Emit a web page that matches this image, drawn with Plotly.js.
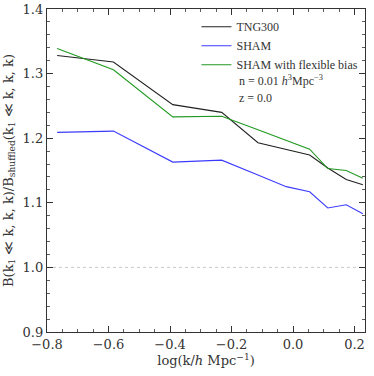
<!DOCTYPE html>
<html>
<head>
<meta charset="utf-8">
<script src="https://cdn.plot.ly/plotly-3.0.1.min.js"></script>
<style>
  html, body { margin: 0; padding: 0; background: #fff; overflow: hidden; }
  #chart { width: 374px; height: 376px; }
</style>
</head>
<body>
<div id="chart"></div>
<script>
// log(k) bins
const logK = [-0.767, -0.584, -0.391, -0.232, -0.114, -0.022, 0.054, 0.113, 0.173, 0.227];

const tng300 = [1.328, 1.318, 1.252, 1.240, 1.193, 1.182, 1.174, 1.154, 1.136, 1.128];
const sham = [1.209, 1.211, 1.163, 1.166, 1.143, 1.125, 1.117, 1.092, 1.097, 1.083];
const shamFlex = [1.339, 1.306, 1.233, 1.234, 1.213, 1.197, 1.183, 1.153, 1.150, 1.138];

const seriesNames = ['TNG300', 'SHAM', 'SHAM with flexible bias'];
const seriesColors = ['#222222', '#3b3bff', '#229922'];

const xRange = [-0.8, 0.234];
const yRange = [0.9, 1.4];
const refLine = [1.0, 1.0];

const serif = 'DejaVu Serif, Liberation Serif, serif';
const serifNarrow = 'Liberation Serif, DejaVu Serif, serif';

function makeAxis(range, dtick, minorDtick) {
    return {
        range: range,
        dtick: dtick,
        ticks: 'inside',
        ticklen: 6,
        tickwidth: 1,
        tickcolor: '#333',
        showline: true,
        linecolor: '#333',
        linewidth: 1.2,
        mirror: 'ticks',
        showgrid: false,
        zeroline: false,
        minor: {
            dtick: minorDtick,
            ticks: 'inside',
            ticklen: 3,
            tickwidth: 0.8,
            tickcolor: '#333',
            showgrid: false
        },
        tickfont: { family: serif, size: 13, color: '#333' }
    };
}

const data = [
    {
        x: xRange,
        y: refLine,
        type: 'scatter',
        mode: 'lines',
        line: { color: '#bbbbbb', width: 0.8, dash: 'dot' },
        showlegend: false,
        hoverinfo: 'skip'
    }
];

[tng300, sham, shamFlex].forEach((vals, i) => {
    data.push({
        x: logK,
        y: vals,
        type: 'scatter',
        mode: 'lines',
        name: seriesNames[i],
        line: { color: seriesColors[i], width: 1.1 }
    });
});

const xaxis = makeAxis(xRange, 0.2, 0.05);
xaxis.tickformat = '.1f';
xaxis.title = {
    text: 'log(k/<i>h</i> Mpc<sup>−1</sup>)',
    font: { family: serif, size: 13, color: '#333' },
    standoff: 4
};

const yaxis = makeAxis(yRange, 0.1, 0.02);
yaxis.tickformat = '.1f';
yaxis.title = {
    text: 'B(k<sub>1</sub> ≪ k, k, k)/B<sub>shuffled</sub>(k<sub>1</sub> ≪ k, k, k)',
    font: { family: serif, size: 13, color: '#333' },
    standoff: 6
};

const layout = {
    width: 374,
    height: 376,
    paper_bgcolor: '#fff',
    plot_bgcolor: '#fff',
    margin: { l: 47, r: 9, t: 9, b: 44 },
    xaxis: xaxis,
    yaxis: yaxis,
    showlegend: true,
    legend: {
        x: 0.47,
        y: 0.99,
        xanchor: 'left',
        yanchor: 'top',
        bgcolor: 'rgba(0,0,0,0)',
        font: { family: serifNarrow, size: 12, color: '#333' },
        tracegroupgap: 0,
        itemwidth: 30
    },
    annotations: [
        {
            xref: 'paper', yref: 'paper',
            x: 0.596, y: 0.778,
            xanchor: 'left', yanchor: 'middle',
            showarrow: false,
            text: 'n = 0.01 <i>h</i><sup>3</sup>Mpc<sup>−3</sup>',
            font: { family: serifNarrow, size: 12, color: '#333' }
        },
        {
            xref: 'paper', yref: 'paper',
            x: 0.596, y: 0.724,
            xanchor: 'left', yanchor: 'middle',
            showarrow: false,
            text: 'z = 0.0',
            font: { family: serifNarrow, size: 12, color: '#333' }
        }
    ]
};

Plotly.newPlot('chart', data, layout, { displayModeBar: false, staticPlot: true });
</script>
</body>
</html>
